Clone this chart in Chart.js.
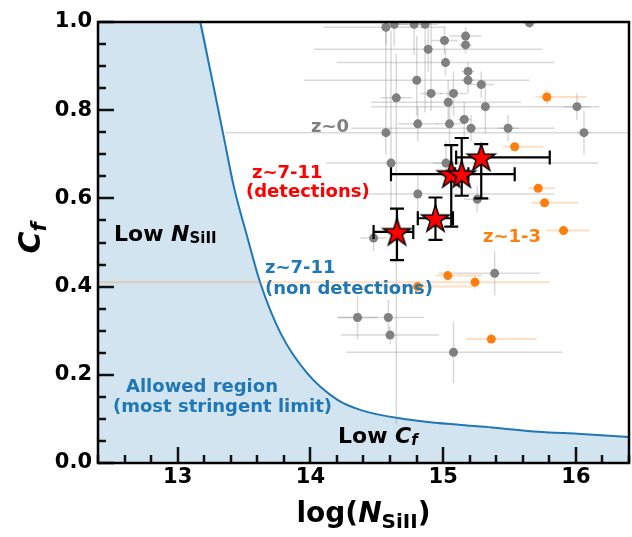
<!DOCTYPE html>
<html>
<head>
<meta charset="utf-8">
<script src="https://cdn.jsdelivr.net/npm/chart.js@4.4.1/dist/chart.umd.min.js"></script>
<style>
  html, body { margin: 0; padding: 0; background: #fff; }
</style>
</head>
<body>
<canvas id="cf-chart" width="632" height="537"></canvas>
<script>
// Most stringent limit on the covering fraction vs column density
const limitLogN = [13.17, 13.271, 13.347, 13.423, 13.524, 13.624, 13.776, 13.977, 14.204, 14.38, 14.683, 15.136, 15.388, 15.716, 16.04, 16.4];
const limitCf   = [1.0, 0.853, 0.740, 0.627, 0.513, 0.407, 0.294, 0.203, 0.143, 0.120, 0.101, 0.086, 0.080, 0.071, 0.066, 0.059];

// z~0 sample
const lowzLogN = [14.569, 14.632, 14.781, 14.864, 15.650, 15.010, 15.169, 15.169, 14.887, 15.018, 15.187, 15.187, 14.801,
                  15.287, 14.909, 15.078, 14.647, 15.038, 15.318, 16.008, 14.809, 15.048, 15.159, 15.210, 15.489, 14.569,
                  16.061, 14.607, 15.021, 14.809, 15.257, 14.476, 15.388, 14.355, 14.587, 14.600, 15.078];
const lowzCf   = [0.988, 0.995, 0.995, 0.995, 0.998, 0.958, 0.968, 0.948, 0.938, 0.908, 0.888, 0.868, 0.868,
                  0.858, 0.838, 0.838, 0.828, 0.818, 0.808, 0.808, 0.769, 0.769, 0.779, 0.759, 0.759, 0.749,
                  0.749, 0.680, 0.680, 0.610, 0.598, 0.510, 0.430, 0.330, 0.330, 0.290, 0.251];
const lowzErrLogN = [[0.47, 0.45], [0.10, 0.10], [0.12, 0.12], [0.10, 0.10], [0.05, 0.05], [0.10, 0.10], [0.12, 0.12],
                     [0.05, 0.05], [0.86, 0.86], [0.82, 0.82], [0.05, 0.05], [0.05, 0.05], [0.85, 0.85], [0.10, 0.10],
                     [0.08, 0.08], [0.10, 0.10], [0.12, 0.12], [0.58, 0.55], [0.86, 0.86], [0.10, 0.10], [0.15, 0.15],
                     [0.10, 0.10], [0.05, 0.05], [0.90, 0.63], [0.08, 0.08], [1.21, 1.85], [0.05, 0.05], [0.49, 1.56],
                     [0.10, 0.10], [0.48, 1.03], [0.10, 0.10], [0.10, 0.10], [0.42, 0.34], [0.15, 0.15], [0.38, 0.27],
                     [0.37, 0.37], [0.81, 0.82]];
const lowzErrCf = [[0.04, 0.04], [0.05, 0.05], [0.07, 0.0], [0.20, 0.0], [0.0, 0.0], [0.03, 0.03], [0.02, 0.02],
                   [0.02, 0.02], [0.05, 0.05], [0.03, 0.03], [0.02, 0.02], [0.03, 0.03], [0.08, 0.10], [0.03, 0.03],
                   [0.04, 0.16], [0.05, 0.05], [0.74, 0.10], [0.05, 0.05], [0.06, 0.06], [0.03, 0.03], [0.04, 0.04],
                   [0.05, 0.05], [0.05, 0.04], [0.03, 0.03], [0.03, 0.03], [0.05, 0.25], [0.05, 0.05], [0.10, 0.30],
                   [0.05, 0.05], [0.05, 0.05], [0.03, 0.03], [0.03, 0.03], [0.05, 0.05], [0.05, 0.05], [0.04, 0.04],
                   [0.02, 0.02], [0.07, 0.07]];

// z~1-3 sample
const midzLogN = [15.781, 15.539, 15.716, 15.764, 15.907, 15.035, 15.240, 14.807, 15.363];
const midzCf   = [0.830, 0.717, 0.623, 0.590, 0.527, 0.425, 0.410, 0.400, 0.281];
const midzErrLogN = [[0.086, 0.30], [0.088, 0.215], [0.076, 0.126], [0.099, 0.254], [0.128, 0.194],
                     [0.095, 0.258], [3.0, 0.56], [0.326, 0.43], [0.189, 0.34]];
const midzErrCf = [[0.016, 0.016], [0, 0], [0, 0], [0, 0], [0, 0], [0, 0], [0.015, 0.015], [0, 0], [0, 0]];

// z~7-11 detections
const highzLogN = [14.652, 14.942, 15.061, 15.140, 15.287];
const highzCf   = [0.524, 0.555, 0.655, 0.655, 0.693];
const highzErrLogN = [[0.176, 0.123], [0.133, 0.132], [0.454, 0.478], [0.05, 0.05], [0.189, 0.516]];
const highzErrCf   = [[0.064, 0.053], [0.049, 0.047], [0.119, 0.066], [0.049, 0.082], [0.093, 0.030]];

const xMajorTicks = [13, 14, 15, 16];
const xTickLabels = ['13', '14', '15', '16'];
const yMajorTicks = [0, 0.2, 0.4, 0.6, 0.8, 1.0];
const yTickLabels = ['0.0', '0.2', '0.4', '0.6', '0.8', '1.0'];
const xMinorStep = 0.2;
const yMinorStep = 0.05;

const FONT = "'DejaVu Sans', sans-serif";

function toPoints(xs, ys) {
    return xs.map((x, i) => ({ x: x, y: ys[i] }));
}

// filled red five-pointed star used as point marker
function makeStar(radius) {
    const c = document.createElement('canvas');
    const size = Math.ceil(radius * 2 + 4);
    c.width = size;
    c.height = size;
    const g = c.getContext('2d');
    const cx = size / 2, cy = size / 2 + radius * 0.08;
    const inner = radius * 0.382;
    g.beginPath();
    for (let k = 0; k < 10; k++) {
        const r = k % 2 === 0 ? radius : inner;
        const a = -Math.PI / 2 + k * Math.PI / 5;
        const px = cx + r * Math.cos(a), py = cy + r * Math.sin(a);
        if (k === 0) g.moveTo(px, py); else g.lineTo(px, py);
    }
    g.closePath();
    g.fillStyle = '#ff0000';
    g.fill();
    g.lineWidth = 1.5;
    g.strokeStyle = '#000';
    g.lineJoin = 'miter';
    g.stroke();
    return c;
}

// draw text made of several runs (normal / italic / subscript)
function drawRuns(ctx, runs, x, y, align) {
    let total = 0;
    runs.forEach(r => { ctx.font = r.font; total += ctx.measureText(r.text).width; });
    let cx = align === 'center' ? x - total / 2 : x;
    runs.forEach(r => {
        ctx.font = r.font;
        ctx.fillText(r.text, cx, y + (r.dy || 0));
        cx += ctx.measureText(r.text).width;
    });
}

const errorBarPlugin = {
    id: 'errorBars',
    beforeDatasetDraw(chart, args) {
        const ds = chart.data.datasets[args.index];
        if (!ds.errX) return;
        const xs = chart.scales.x, ys = chart.scales.y, ctx = chart.ctx;
        const area = chart.chartArea;
        ctx.save();
        ctx.beginPath();
        ctx.rect(area.left, area.top, area.right - area.left, area.bottom - area.top);
        ctx.clip();
        ctx.strokeStyle = ds.errColor;
        ctx.lineWidth = ds.errWidth;
        ctx.lineCap = 'butt';
        ds.data.forEach((p, i) => {
            const px = xs.getPixelForValue(p.x), py = ys.getPixelForValue(p.y);
            const xl = xs.getPixelForValue(p.x - ds.errX[i][0]);
            const xr = xs.getPixelForValue(p.x + ds.errX[i][1]);
            const yb = ys.getPixelForValue(p.y - ds.errY[i][0]);
            const yt = ys.getPixelForValue(p.y + ds.errY[i][1]);
            ctx.beginPath();
            if (xr - xl > 0.5) { ctx.moveTo(xl, py); ctx.lineTo(xr, py); }
            if (yb - yt > 0.5) { ctx.moveTo(px, yt); ctx.lineTo(px, yb); }
            const cap = ds.capSize || 0;
            if (cap > 0) {
                ctx.moveTo(xl, py - cap); ctx.lineTo(xl, py + cap);
                ctx.moveTo(xr, py - cap); ctx.lineTo(xr, py + cap);
                ctx.moveTo(px - cap, yt); ctx.lineTo(px + cap, yt);
                ctx.moveTo(px - cap, yb); ctx.lineTo(px + cap, yb);
            }
            ctx.stroke();
        });
        ctx.restore();
    }
};

const framePlugin = {
    id: 'frameAndText',
    afterDraw(chart) {
        const ctx = chart.ctx, a = chart.chartArea;
        const xs = chart.scales.x, ys = chart.scales.y;
        ctx.save();

        // annotations
        ctx.textBaseline = 'middle';
        ctx.textAlign = 'left';
        const f18 = 'bold 18px ' + FONT;
        ctx.fillStyle = '#808080';
        drawRuns(ctx, [{ text: 'z~0', font: f18 }], 311, 127);
        ctx.fillStyle = '#ff0000';
        drawRuns(ctx, [{ text: 'z~7-11', font: f18 }], 252, 173);
        drawRuns(ctx, [{ text: '(detections)', font: f18 }], 246, 192);
        ctx.fillStyle = '#ff7f0e';
        drawRuns(ctx, [{ text: 'z~1-3', font: f18 }], 483, 237);
        ctx.fillStyle = '#1f77b4';
        drawRuns(ctx, [{ text: 'z~7-11', font: f18 }], 265, 268);
        drawRuns(ctx, [{ text: '(non detections)', font: f18 }], 265, 289);
        drawRuns(ctx, [{ text: 'Allowed region', font: f18 }], 126, 387);
        drawRuns(ctx, [{ text: '(most stringent limit)', font: f18 }], 113, 407);
        ctx.fillStyle = '#000';
        drawRuns(ctx, [
            { text: 'Low ', font: 'bold 22px ' + FONT },
            { text: 'N', font: 'italic bold 22px ' + FONT },
            { text: 'SiII', font: 'bold 15px ' + FONT, dy: 4 }
        ], 114, 235);
        drawRuns(ctx, [
            { text: 'Low ', font: 'bold 22px ' + FONT },
            { text: 'C', font: 'italic bold 22px ' + FONT },
            { text: 'f', font: 'italic bold 15px ' + FONT, dy: 4 }
        ], 338, 437);

        // minor and major ticks, pointing inward
        ctx.strokeStyle = '#111';
        ctx.lineWidth = 2.5;
        ctx.beginPath();
        for (let v = xs.min; v <= xs.max + 1e-9; v += xMinorStep) {
            const px = Math.round(xs.getPixelForValue(v));
            const major = xMajorTicks.some(t => Math.abs(t - v) < 1e-6);
            ctx.moveTo(px, a.bottom);
            ctx.lineTo(px, a.bottom - (major ? 16 : 8));
        }
        for (let v = ys.min; v <= ys.max + 1e-9; v += yMinorStep) {
            const py = Math.round(ys.getPixelForValue(v));
            const major = yMajorTicks.some(t => Math.abs(t - v) < 1e-6);
            ctx.moveTo(a.left, py);
            ctx.lineTo(a.left + (major ? 16 : 8), py);
        }
        ctx.stroke();

        // frame
        ctx.strokeStyle = '#000';
        ctx.lineWidth = 2.5;
        ctx.strokeRect(a.left, a.top, a.right - a.left, a.bottom - a.top);

        // tick labels
        ctx.fillStyle = '#000';
        ctx.font = 'bold 21px ' + FONT;
        ctx.textAlign = 'center';
        ctx.textBaseline = 'middle';
        xMajorTicks.forEach((t, i) => ctx.fillText(xTickLabels[i], xs.getPixelForValue(t), a.bottom + 15));
        ctx.textAlign = 'right';
        yMajorTicks.forEach((t, i) => ctx.fillText(yTickLabels[i], a.left - 6, ys.getPixelForValue(t)));

        // axis titles
        ctx.textAlign = 'left';
        ctx.textBaseline = 'alphabetic';
        drawRuns(ctx, [
            { text: 'log(', font: 'bold 28px ' + FONT },
            { text: 'N', font: 'italic bold 28px ' + FONT },
            { text: 'SiII', font: 'bold 20px ' + FONT, dy: 6 },
            { text: ')', font: 'bold 28px ' + FONT }
        ], (a.left + a.right) / 2, 522, 'center');

        ctx.translate(40, 238);
        ctx.rotate(-Math.PI / 2);
        drawRuns(ctx, [
            { text: 'C', font: 'italic bold 30px ' + FONT },
            { text: 'f', font: 'italic bold 21px ' + FONT, dy: 6 }
        ], 0, 0, 'center');
        ctx.restore();
    }
};

const ctx = document.getElementById('cf-chart').getContext('2d');
const cfChart = new Chart(ctx, {
    type: 'scatter',
    data: {
        datasets: [
            {
                // allowed region below the limit curve
                type: 'line',
                data: [{ x: 12.4, y: 1.0 }].concat(toPoints(limitLogN, limitCf)),
                backgroundColor: 'rgba(31, 119, 180, 0.2)',
                borderWidth: 0,
                pointRadius: 0,
                fill: 'origin',
                cubicInterpolationMode: 'monotone',
                order: 5
            },
            {
                type: 'line',
                data: toPoints(limitLogN, limitCf),
                borderColor: '#1f77b4',
                borderWidth: 2,
                pointRadius: 0,
                fill: false,
                cubicInterpolationMode: 'monotone',
                order: 4
            },
            {
                label: 'z~0',
                data: toPoints(lowzLogN, lowzCf),
                errX: lowzErrLogN,
                errY: lowzErrCf,
                errColor: 'rgba(128, 128, 128, 0.3)',
                errWidth: 1.5,
                backgroundColor: '#808080',
                borderWidth: 0,
                pointRadius: 4.5,
                order: 3
            },
            {
                label: 'z~1-3',
                data: toPoints(midzLogN, midzCf),
                errX: midzErrLogN,
                errY: midzErrCf,
                errColor: 'rgba(255, 127, 14, 0.25)',
                errWidth: 2,
                backgroundColor: '#ff7f0e',
                borderWidth: 0,
                pointRadius: 4.5,
                order: 2
            },
            {
                label: 'z~7-11',
                data: toPoints(highzLogN, highzCf),
                errX: highzErrLogN,
                errY: highzErrCf,
                errColor: '#000',
                errWidth: 2.2,
                capSize: 7,
                pointStyle: makeStar(14.5),
                pointRadius: 14,
                order: 1
            }
        ]
    },
    options: {
        responsive: false,
        animation: false,
        devicePixelRatio: 1,
        layout: { autoPadding: false, padding: { left: 98, right: 3, top: 22, bottom: 74 } },
        plugins: {
            legend: { display: false },
            tooltip: { enabled: false }
        },
        scales: {
            x: { type: 'linear', min: 12.4, max: 16.4, display: false },
            y: { type: 'linear', min: 0, max: 1, display: false }
        }
    },
    plugins: [errorBarPlugin, framePlugin]
});
</script>
</body>
</html>
